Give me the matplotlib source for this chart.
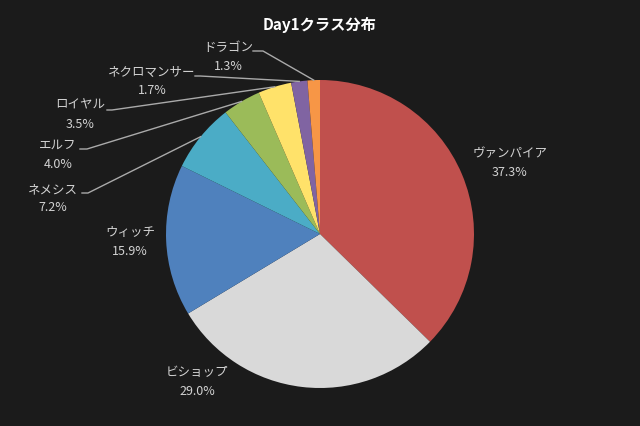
import matplotlib
matplotlib.use("Agg")
import matplotlib.pyplot as plt
import numpy as np

plt.rcParams['font.family'] = ['Noto Sans CJK JP', 'DejaVu Sans']

# data
classes = ['ヴァンパイア', 'ビショップ', 'ウィッチ', 'ネメシス', 'エルフ', 'ロイヤル', 'ネクロマンサー', 'ドラゴン']
shares = [37.3, 29.0, 15.9, 7.2, 4.0, 3.5, 1.7, 1.3]
colors = ['#c0504d', '#d9d9d9', '#4f81bd', '#4bacc6', '#9bbb59', '#ffe26a', '#8064a2', '#f79646']

# label layout in pixel coords (text centre x, name y, percent y, leader start or None)
label_pos = {
    'ヴァンパイア': (510, 154, 173, None),
    'ビショップ': (197, 373, 392, None),
    'ウィッチ': (130, 233, 252, None),
    'ネメシス': (53, 190, 208, (82, 88, 194)),
    'エルフ': (58, 145, 164, (80, 87, 150)),
    'ロイヤル': (80, 105, 124, (107, 112, 111)),
    'ネクロマンサー': (152, 72, 91, (195, 200, 77)),
    'ドラゴン': (228, 47, 67, (253, 263, 52)),
}

W, H = 640, 427
bg = '#1b1b1b'
cx, cy, r = 320, 235, 154

def py(y):
    return H - y

fig = plt.figure(figsize=(6.4, 4.27), dpi=100, facecolor=bg)
ax = fig.add_axes([0, 0, 1, 1])
ax.set_facecolor(bg)

wedges, _ = ax.pie(shares, colors=colors, startangle=90, counterclock=False,
                   center=(cx, py(cy)), radius=r,
                   wedgeprops=dict(linewidth=0))
ax.set_xlim(0, W)
ax.set_ylim(0, H)
ax.set_aspect('equal')
ax.axis('off')

for w, name, val in zip(wedges, classes, shares):
    tx, ny, vy, lead = label_pos[name]
    ax.text(tx, py(ny), name, ha='center', va='center', fontsize=9, color='#d2d2d2')
    ax.text(tx, py(vy), f'{val:.1f}%', ha='center', va='center', fontsize=9, color='#d2d2d2')
    if lead is not None:
        mid = np.deg2rad((w.theta1 + w.theta2) / 2)
        ex = cx + r * np.cos(mid)
        ey = py(cy) + r * np.sin(mid)
        x0, x1, ly = lead
        ax.plot([x0, x1, ex], [py(ly), py(ly), ey], color='#aaaaaa', lw=1)

fig.text(320 / W, 1 - 25 / H, 'Day1クラス分布', ha='center', va='center',
         fontsize=11, fontweight='bold', color='white')

fig.savefig('out.png', dpi=100, facecolor=bg)
